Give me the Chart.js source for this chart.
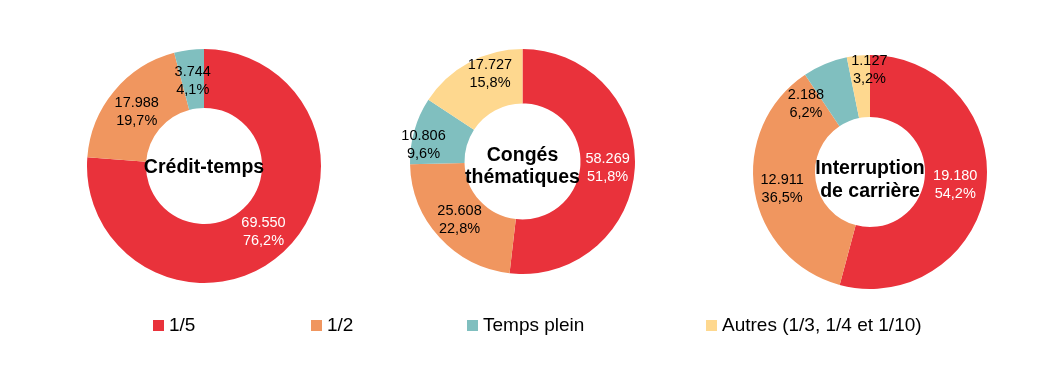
<!DOCTYPE html>
<html>
<head>
<meta charset="utf-8">
<script src="https://cdn.jsdelivr.net/npm/chart.js@4"></script>
<style>
  html, body { margin: 0; padding: 0; background: #ffffff; }
  body { width: 1056px; height: 372px; position: relative; overflow: hidden; font-family: "Liberation Sans", Arial, sans-serif; }
  .wrap { position: absolute; }
  #legend { position: absolute; left: 0; top: 312px; width: 1056px; height: 26px; }
  .item { position: absolute; top: 0; height: 26px; display: flex; align-items: center; font-size: 19px; color: #000; white-space: nowrap; }
  .sw { width: 11px; height: 11px; margin-right: 5px; display: inline-block; }
</style>
</head>
<body>
<div class="wrap" id="w1"><canvas id="c1"></canvas></div>
<div class="wrap" id="w2"><canvas id="c2"></canvas></div>
<div class="wrap" id="w3"><canvas id="c3"></canvas></div>
<div id="legend"></div>
<script>
// ---- data ----
const categories = ["1/5", "1/2", "Temps plein", "Autres (1/3, 1/4 et 1/10)"];
const creditTemps = [69550, 17988, 3744, 0];
const congesThematiques = [58269, 25608, 10806, 17727];
const interruptionCarriere = [19180, 12911, 2188, 1127];
const chartTitles = [["Crédit-temps"], ["Congés", "thématiques"], ["Interruption", "de carrière"]];

// ---- style ----
const colors = ["#E9323B", "#F0965F", "#80BFBF", "#FED88F"];
const labelColors = ["#ffffff", "#000000", "#000000", "#000000"];
const FONT = '"Liberation Sans", Arial, sans-serif';
const PAD = 24;

const layouts = [
  { id: "c1", wrap: "w1", cx: 204, cy: 166, r: 117, cutout: 58, titleShift: 2,
    nudges: [[0,0],[0,0],[0,0],[0,0]] },
  { id: "c2", wrap: "w2", cx: 522.5, cy: 161.5, r: 112.5, cutout: 58, titleShift: 5,
    nudges: [[0,0],[0,0],[-17,5],[8,-14]] },
  { id: "c3", wrap: "w3", cx: 870, cy: 171.5, r: 117, cutout: 55, titleShift: 8,
    nudges: [[0,0],[-3,2],[-31,10],[8,-18]] }
];
const datasets = [creditTemps, congesThematiques, interruptionCarriere];

function fmtThousands(v) {
  return String(v).replace(/\B(?=(\d{3})+(?!\d))/g, ".");
}
function fmtPct(v, total) {
  return (v / total * 100).toFixed(1).replace(".", ",") + "%";
}

const labelPlugin = {
  id: "sliceLabels",
  afterDatasetsDraw(chart, args, opts) {
    const ctx = chart.ctx;
    const meta = chart.getDatasetMeta(0);
    const data = chart.data.datasets[0].data;
    const total = data.reduce((a, b) => a + b, 0);
    ctx.save();
    ctx.font = "14.5px " + FONT;
    ctx.textAlign = "center";
    ctx.textBaseline = "middle";
    meta.data.forEach((arc, i) => {
      if (!data[i]) return;
      const p = arc.getCenterPoint();
      const n = opts.nudges[i] || [0, 0];
      const x = p.x + n[0], y = p.y + n[1];
      ctx.fillStyle = labelColors[i];
      ctx.fillText(fmtThousands(data[i]), x, y - 7.5);
      ctx.fillText(fmtPct(data[i], total), x, y + 10.5);
    });
    // center title
    const a = meta.data[0];
    const lines = opts.title;
    const lh = 22.5;
    ctx.font = "bold 19.5px " + FONT;
    ctx.fillStyle = "#000000";
    lines.forEach((t, k) => {
      const off = (k - (lines.length - 1) / 2) * lh + opts.titleShift;
      ctx.fillText(t, a.x, a.y + off);
    });
    ctx.restore();
  }
};

layouts.forEach((L, idx) => {
  const size = 2 * L.r + 2 * PAD;
  const w = document.getElementById(L.wrap);
  w.style.left = (L.cx - L.r - PAD) + "px";
  w.style.top = (L.cy - L.r - PAD) + "px";
  w.style.width = size + "px";
  w.style.height = size + "px";
  const cv = document.getElementById(L.id);
  cv.width = size; cv.height = size;
  cv.style.width = size + "px"; cv.style.height = size + "px";
  new Chart(cv, {
    type: "doughnut",
    data: {
      labels: categories,
      datasets: [{
        data: datasets[idx],
        backgroundColor: colors,
        borderWidth: 0,
        hoverOffset: 0
      }]
    },
    options: {
      responsive: false,
      maintainAspectRatio: false,
      animation: false,
      cutout: L.cutout,
      rotation: 0,
      layout: { padding: PAD },
      plugins: {
        legend: { display: false },
        tooltip: { enabled: false },
        sliceLabels: { nudges: L.nudges, title: chartTitles[idx], titleShift: L.titleShift }
      }
    },
    plugins: [labelPlugin]
  });
});

// legend (HTML)
const legendX = [153, 311, 467, 706];
const lg = document.getElementById("legend");
categories.forEach((c, i) => {
  const d = document.createElement("div");
  d.className = "item";
  d.style.left = legendX[i] + "px";
  const s = document.createElement("span");
  s.className = "sw";
  s.style.background = colors[i];
  d.appendChild(s);
  d.appendChild(document.createTextNode(c));
  lg.appendChild(d);
});
</script>
</body>
</html>
